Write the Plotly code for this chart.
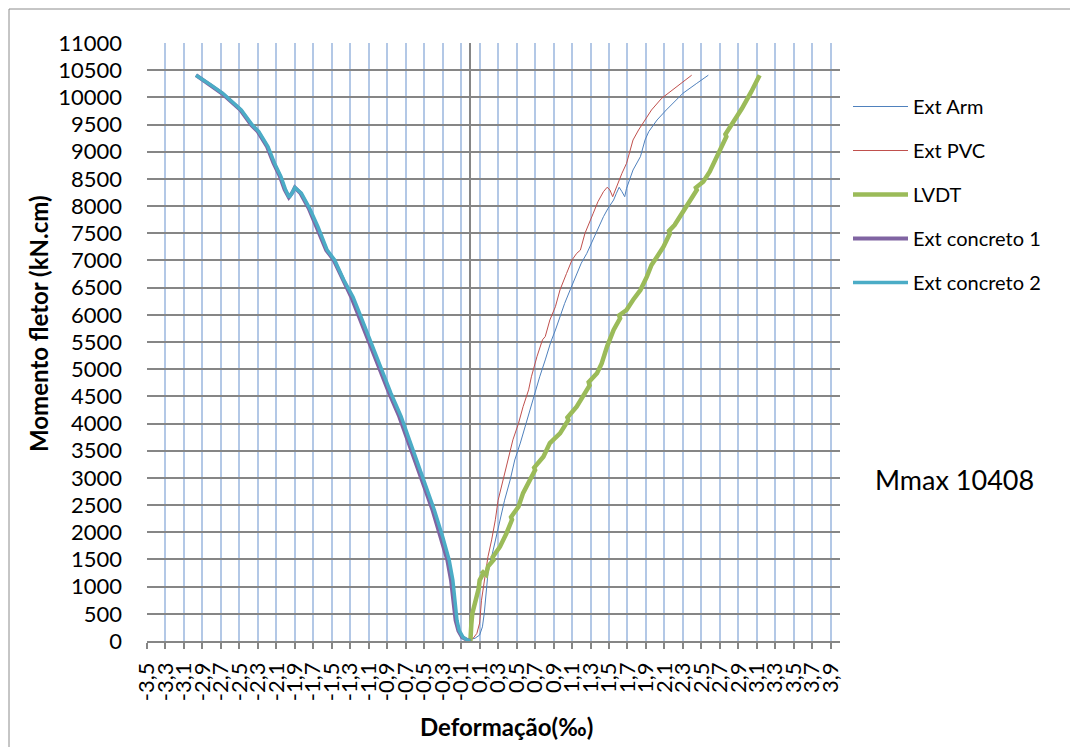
import plotly.graph_objects as go

# ---------------- data ----------------
arm_x = [0.00, 0.05, 0.10, 0.13, 0.15, 0.17, 0.19, 0.23, 0.27, 0.32, 0.37, 0.43, 0.48, 0.54, 0.59, 0.64,
         0.70, 0.75, 0.81, 0.87, 0.92, 0.97, 1.02, 1.08, 1.14, 1.20, 1.26, 1.31, 1.37, 1.44, 1.49, 1.55,
         1.58, 1.61, 1.64, 1.67, 1.69, 1.76, 1.84, 1.89, 1.93, 2.02, 2.12, 2.30, 2.45, 2.575]
arm_y = [30, 50, 110, 260, 510, 940, 1245, 1550, 1860, 2230, 2590, 2960, 3330, 3640, 3940, 4250,
         4560, 4860, 5170, 5500, 5720, 5970, 6210, 6460, 6700, 6950, 7130, 7315, 7560, 7805, 7960, 8112,
         8235, 8346, 8265, 8173, 8327, 8664, 8909, 9216, 9369, 9584, 9768, 10075, 10258, 10408]

pvc_x = [0.00, 0.03, 0.07, 0.10, 0.12, 0.16, 0.19, 0.23, 0.27, 0.30, 0.36, 0.41, 0.46, 0.52, 0.57, 0.63,
         0.66, 0.72, 0.78, 0.81, 0.86, 0.92, 0.97, 1.04, 1.10, 1.15, 1.19, 1.24, 1.28, 1.33, 1.38, 1.44,
         1.48, 1.51, 1.54, 1.58, 1.64, 1.69, 1.73, 1.76, 1.82, 1.89, 1.96, 2.07, 2.16, 2.28, 2.395]
pvc_y = [30, 50, 140, 330, 750, 1245, 1550, 1860, 2230, 2590, 3020, 3390, 3700, 4000, 4310, 4620,
         4860, 5230, 5540, 5600, 5905, 6150, 6460, 6760, 7010, 7130, 7190, 7500, 7680, 7870, 8080, 8265,
         8346, 8296, 8173, 8357, 8603, 8787, 9032, 9216, 9400, 9584, 9768, 9983, 10104, 10250, 10408]

lvdt_x = [0.00, 0.00, 0.01, 0.02, 0.04, 0.06, 0.09, 0.10, 0.14, 0.12, 0.17, 0.19, 0.25, 0.24, 0.32, 0.39,
          0.45, 0.44, 0.52, 0.57, 0.64, 0.70, 0.69, 0.79, 0.86, 0.97, 1.06, 1.05, 1.15, 1.22, 1.29, 1.28,
          1.37, 1.42, 1.45, 1.48, 1.55, 1.62, 1.61, 1.69, 1.76, 1.84, 1.91, 1.96, 2.02, 2.09, 2.16, 2.15,
          2.21, 2.30, 2.38, 2.45, 2.44, 2.52, 2.59, 2.65, 2.70, 2.77, 2.76, 2.86, 2.94, 3.04, 3.13]
lvdt_y = [0, 100, 300, 500, 630, 750, 970, 1120, 1245, 1290, 1220, 1370, 1490, 1540, 1735, 1980,
          2230, 2280, 2470, 2720, 2960, 3145, 3190, 3390, 3640, 3820, 4065, 4110, 4310, 4494, 4700, 4760,
          4924, 5100, 5280, 5420, 5721, 5936, 5990, 6089, 6273, 6457, 6702, 6916, 7069, 7253, 7500, 7545,
          7652, 7897, 8143, 8296, 8340, 8449, 8633, 8848, 9063, 9277, 9320, 9584, 9799, 10104, 10408]

conc2_x = [0.00, -0.03, -0.08, -0.12, -0.145, -0.165, -0.19, -0.23, -0.30, -0.39, -0.48, -0.57, -0.66,
           -0.75, -0.86, -0.97, -1.06, -1.17, -1.20, -1.27, -1.37, -1.47, -1.55, -1.65, -1.74, -1.83,
           -1.90, -1.93, -1.96, -2.00, -2.05, -2.12, -2.19, -2.29, -2.36, -2.48, -2.68, -2.81, -2.97]
conc2_y = [0, 15, 70, 190, 380, 750, 1120, 1490, 1920, 2410, 2840, 3270, 3700,
           4130, 4560, 5050, 5410, 5900, 6030, 6330, 6640, 7010, 7190, 7620, 7960, 8240,
           8340, 8240, 8160, 8300, 8540, 8790, 9090, 9370, 9490, 9770, 10075, 10230, 10408]

conc1_x = [0.00, -0.03, -0.09, -0.13, -0.16, -0.18, -0.21, -0.25, -0.32, -0.41, -0.50, -0.59, -0.68,
           -0.77, -0.88, -0.99, -1.08, -1.19, -1.22, -1.29, -1.38, -1.48, -1.56, -1.66, -1.75, -1.84,
           -1.90, -1.93, -1.965, -2.01, -2.06, -2.13, -2.20, -2.30, -2.37, -2.49, -2.69, -2.82, -2.97]
conc1_y = conc2_y

xtick_vals = [round(-3.5 + 0.2 * i, 1) for i in range(38)]
xtick_text = [("%.1f" % v).replace(".", ",") for v in xtick_vals]

series = [
    ("Ext Arm", arm_x, arm_y, "#4F81BD", 1),
    ("Ext PVC", pvc_x, pvc_y, "#C0504D", 1),
    ("LVDT", lvdt_x, lvdt_y, "#9BBB59", 4.5),
    ("Ext concreto 1", conc1_x, conc1_y, "#8064A2", 4),
    ("Ext concreto 2", conc2_x, conc2_y, "#4BACC6", 3.5),
]

FONT = "Lato, Carlito, Calibri, sans-serif"

fig = go.Figure()
for i, (name, xs, ys, col, w) in enumerate(series):
    fig.add_trace(go.Scatter(x=xs, y=ys, mode="lines", name=name, legendgroup="g%d" % i,
                             line=dict(color=col, width=w)))

L, R, T, B = 147, 230, 43, 106
W, H = 1070, 747
pw, ph = W - L - R, H - T - B

def px_x(p):
    return (p - L) / pw

def px_y(p):
    return (H - B - p) / ph

fig.update_layout(
    width=W, height=H,
    margin=dict(l=L, r=R, t=T, b=B, pad=0),
    paper_bgcolor="white", plot_bgcolor="white",
    font=dict(family=FONT, color="black"),
    showlegend=True,
    legend=dict(x=px_x(848), xanchor="left", y=px_y(87), yanchor="top",
                font=dict(family=FONT, size=20, color="black"),
                tracegroupgap=15, itemwidth=55, bgcolor="rgba(0,0,0,0)"),
    xaxis=dict(range=[-3.5, 4.0], tickmode="array", tickvals=xtick_vals, ticktext=xtick_text,
               tickangle=-90, tickfont=dict(family=FONT, size=22, color="black"),
               showgrid=True, gridcolor="#B3C8E6", gridwidth=1.5,
               zeroline=True, zerolinecolor="#868686", zerolinewidth=1.5,
               showline=True, linecolor="#868686", linewidth=1.5,
               ticks="outside", ticklen=6, tickcolor="#868686", tickwidth=1.5,
               ticklabelstandoff=5),
    yaxis=dict(range=[0, 11000], dtick=500, tick0=0, tickformat="d",
               tickfont=dict(family=FONT, size=22, color="black"),
               showgrid=True, gridcolor="#868686", gridwidth=1.5,
               zeroline=False, showline=False, ticks="", ticklabelstandoff=24),
)

fig.add_annotation(text="<b>Deformação(‰)</b>", xref="paper", yref="paper",
                   x=px_x(506), y=px_y(726), xanchor="center", yanchor="middle", showarrow=False,
                   font=dict(family=FONT, size=24, color="black"))
fig.add_annotation(text="<b>Momento fletor (kN.cm)</b>", xref="paper", yref="paper",
                   x=px_x(38), y=px_y(324), xanchor="center", yanchor="middle", showarrow=False,
                   textangle=-90, font=dict(family=FONT, size=24, color="black"))
fig.add_annotation(text="Mmax 10408", xref="paper", yref="paper",
                   x=px_x(955), y=px_y(479), xanchor="center", yanchor="middle", showarrow=False,
                   font=dict(family=FONT, size=27, color="black"))

fig.add_shape(type="line", xref="paper", yref="paper", x0=px_x(9), x1=px_x(9),
              y0=px_y(H + 5), y1=px_y(9), line=dict(color="#8C8C8C", width=1))
fig.add_shape(type="line", xref="paper", yref="paper", x0=px_x(9), x1=px_x(W + 5),
              y0=px_y(9), y1=px_y(9), line=dict(color="#8C8C8C", width=1))

fig.write_html("out.html")
